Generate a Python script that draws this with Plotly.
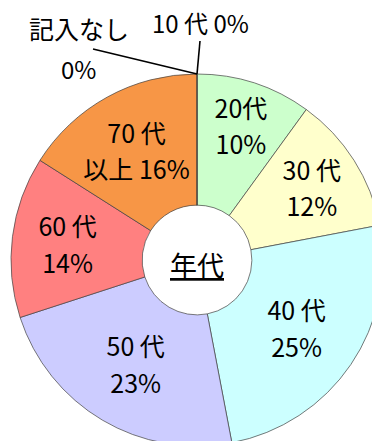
import plotly.graph_objects as go

# Data (clockwise from 12 o'clock)
categories = ["10 代", "20代", "30 代", "40 代", "50 代", "60 代", "70 代<br>以上", "記入なし"]
values = [0, 10, 12, 25, 23, 14, 16, 0]
colors = ["#FFFFFF", "#CCFFCC", "#FFFFCC", "#CCFFFF", "#CCCCFF", "#FF8080", "#F79646", "#FFFFFF"]

W, H = 383, 446
ML, MT = 11, 74
PW = W - ML
PH = H - MT

def px(x):
    return (x - ML) / PW

def py(y):
    return 1 - (y - MT) / PH

FONT = "Noto Sans CJK JP"
GS = "font-size:25px"

# zero slices are labelled outside with leader lines (annotations below)
labels_text = []
for c, v in zip(categories, values):
    if v == 0:
        labels_text.append("")
    elif "<br>" in c:
        a, b = c.split("<br>")
        labels_text.append(f"<span style='{GS}'>{a}</span><br><span style='{GS}'>{b} {v}%</span>")
    else:
        labels_text.append(f"<span style='{GS}'>{c}</span><br><span style='{GS}'>{v}%</span>")

fig = go.Figure(go.Pie(
    labels=categories,
    values=values,
    text=labels_text,
    textinfo="text",
    textposition="inside",
    insidetextorientation="horizontal",
    sort=False,
    direction="clockwise",
    rotation=0,
    hole=0.295,
    marker=dict(colors=colors, line=dict(color="#404040", width=0.7)),
    textfont=dict(family=FONT, size=28, color="#000000"),
    showlegend=False,
))

def ann(text, x, y, size):
    return dict(text=text, x=px(x), y=py(y), xref="paper", yref="paper",
                xanchor="center", yanchor="middle", showarrow=False,
                font=dict(family=FONT, size=size, color="#000"))

annotations = [
    dict(text="<u>年代</u>", x=0.5, y=py(264), xref="paper", yref="paper",
         xanchor="center", yanchor="middle",
         showarrow=False, font=dict(family=FONT, size=27, color="#000")),
    ann(f"{categories[0]} {values[0]}%", 200, 23, 24),
    ann(categories[-1], 79, 28, 25),
    ann(f"{values[-1]}%", 78, 68, 24),
]

shapes = [
    dict(type="line", xref="paper", yref="paper", x0=px(197), y0=py(74), x1=px(200), y1=py(41),
         line=dict(color="#000", width=1.6)),
    dict(type="line", xref="paper", yref="paper", x0=px(197), y0=py(74), x1=px(93), y1=py(49),
         line=dict(color="#000", width=1.6)),
]

fig.update_layout(
    width=W, height=H,
    margin=dict(l=ML, r=0, t=MT, b=0),
    paper_bgcolor="white",
    plot_bgcolor="white",
    annotations=annotations,
    shapes=shapes,
    uniformtext=dict(minsize=28, mode="show"),
)

fig.write_html("out.html", post_script="document.documentElement.style.overflow='hidden';document.body.style.overflow='hidden';document.body.style.margin='0';")
